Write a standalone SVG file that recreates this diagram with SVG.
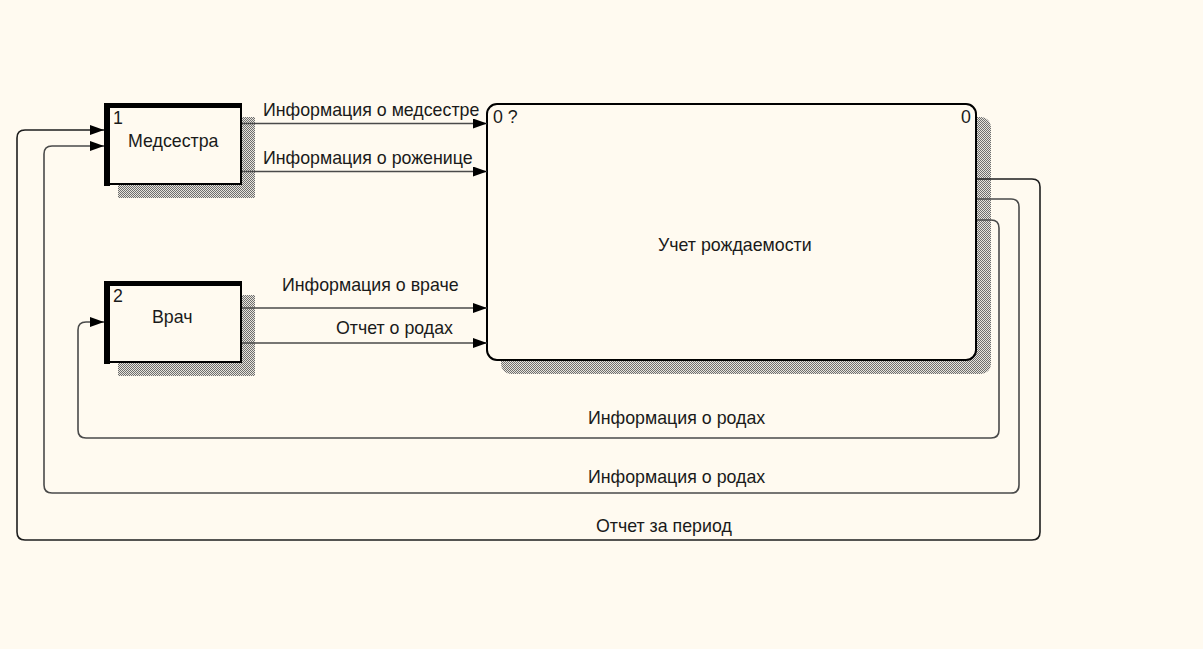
<svg xmlns="http://www.w3.org/2000/svg" width="1203" height="649" viewBox="0 0 1203 649">
<defs>
<pattern id="hatch" width="2" height="2" patternUnits="userSpaceOnUse">
<rect width="2" height="2" fill="#e8e4dc"/>
<rect x="0" y="0" width="1" height="1" fill="#6e6e6e"/>
<rect x="1" y="1" width="1" height="1" fill="#6e6e6e"/>
</pattern>
<marker id="arr" viewBox="0 0 14 10" refX="14" refY="5" markerWidth="14" markerHeight="10" markerUnits="userSpaceOnUse" orient="auto">
<path d="M0,0 L14,5 L0,10 z" fill="#000"/>
</marker>
</defs>
<style>
text{font-family:"Liberation Sans",Arial,sans-serif;font-size:17.8px;fill:#1a1a1a}
.box{fill:#FFFAF0;stroke:#000;stroke-width:2}
.thick{fill:#000}
.sh{fill:url(#hatch)}
.c{fill:none;stroke:#4a4a4a;stroke-width:1.6}
.cd{fill:none;stroke:#1e1e1e;stroke-width:1.6}
</style>
<rect width="1203" height="649" fill="#FFFAF0"/>

<g id="node-main">
<rect class="sh" x="501" y="117" width="490" height="257" rx="10"/>
<rect class="box" x="487" y="104" width="489" height="256" rx="10" stroke-width="2.6"/>
<text x="493" y="123">0 ?</text>
<text x="961" y="123">0</text>
<text x="658" y="251">Учет рождаемости</text>
</g>

<g id="node-1">
<rect class="sh" x="118" y="117" width="137" height="81"/>
<rect class="box" x="105" y="104" width="136" height="80"/>
<rect class="thick" x="104" y="103" width="6" height="83"/>
<rect class="thick" x="104" y="103" width="138" height="5"/>
<text x="113" y="124">1</text>
<text x="128" y="147">Медсестра</text>
</g>

<g id="node-2">
<rect class="sh" x="118" y="295" width="137" height="81"/>
<rect class="box" x="105" y="282" width="136" height="80"/>
<rect class="thick" x="104" y="281" width="6" height="83"/>
<rect class="thick" x="104" y="281" width="138" height="5"/>
<text x="113" y="302">2</text>
<text x="152" y="323">Врач</text>
</g>

<g id="connectors">
<path class="c" d="M242,123.5 H487" marker-end="url(#arr)"/>
<path class="c" d="M242,171.5 H487" marker-end="url(#arr)"/>
<path class="c" d="M242,308 H487" marker-end="url(#arr)"/>
<path class="c" d="M242,343 H487" marker-end="url(#arr)"/>
<path class="cd" d="M977,179 H1032 Q1040,179 1040,187 V532 Q1040,540 1032,540 H25 Q17,540 17,532 V138 Q17,130 25,130 H104" marker-end="url(#arr)"/>
<path class="c" d="M977,199 H1011 Q1019,199 1019,207 V485 Q1019,493 1011,493 H52 Q44,493 44,485 V154 Q44,146 52,146 H104" marker-end="url(#arr)"/>
<path class="c" d="M977,220 H991 Q999,220 999,228 V430 Q999,438 991,438 H86 Q78,438 78,430 V330 Q78,322 86,322 H104" marker-end="url(#arr)"/>
<text x="263" y="116">Информация о медсестре</text>
<text x="263" y="164">Информация о роженице</text>
<text x="282" y="291">Информация о враче</text>
<text x="336" y="334">Отчет о родах</text>
<text x="588" y="424">Информация о родах</text>
<text x="588" y="483">Информация о родах</text>
<text x="596" y="532">Отчет за период</text>
</g>
</svg>
